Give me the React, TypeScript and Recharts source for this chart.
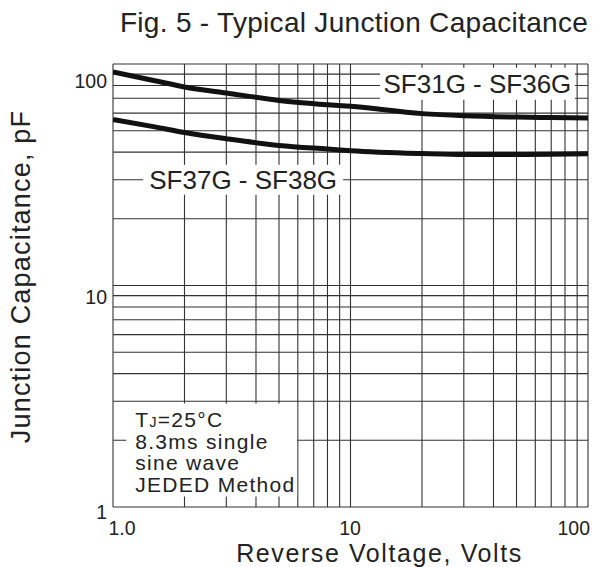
import React from 'react';
import { LineChart, Line, XAxis, YAxis, CartesianGrid, ReferenceArea } from 'recharts';

// ---- data ----
const voltages = [1, 1.5, 2, 3, 5, 8, 10, 20, 30, 50, 70, 100];
const capSF31toSF36 = [92, 84, 78.8, 74, 68.5, 65.5, 64.4, 59.7, 58.4, 57.6, 57.3, 57.1];
const capSF37toSF38 = [56.1, 52, 49.1, 46, 42.9, 41.3, 40.6, 39.4, 39.0, 39.0, 39.1, 39.3];

const xTicks = [1, 10, 100];
const xTickLabels = ['1.0', '10', '100'];
const yTicks = [1, 10, 100];
const yTickLabels = ['1', '10', '100'];

const xGridValues = [1, 2, 3, 4, 5, 6, 7, 8, 9, 10, 20, 30, 40, 50, 60, 70, 80, 90, 100];
const yGridValues = [1, 2, 3, 4, 5, 6, 7, 8, 9, 10, 20, 30, 40, 50, 60, 70, 80, 90, 100];

const seriesNames = ['SF31G - SF36G', 'SF37G - SF38G'];
// annotation boxes in data units: [x1, x2, y1, y2]
const boxSF31 = [13.3, 88.1, 69, 96.2];
const boxSF37 = [1.34, 9.31, 25.7, 35.1];
const boxNote = [1.137, 5.96, 1.115, 2.93];
const noteLines = ['TJ=25°C', '8.3ms single', 'sine wave', 'JEDED Method'];

const title = 'Fig. 5 - Typical Junction Capacitance';
const xTitle = 'Reverse Voltage, Volts';
const yTitle = 'Junction Capacitance, pF';

const rows = voltages.map((v, i) => ({ v, a: capSF31toSF36[i], b: capSF37toSF38[i] }));

// ---- styles ----
const FONT = '"Liberation Sans", Arial, Helvetica, sans-serif';
const INK = '#222';
const xTickStyle: Record<string, { dx: number; anchor: 'start' | 'middle' | 'end' }> = {
  '1': { dx: -4.5, anchor: 'start' },
  '10': { dx: -0.5, anchor: 'middle' },
  '100': { dx: 2, anchor: 'end' },
};
const yTickDy: Record<string, number> = { '1': 12, '10': 18, '100': 24 };

const renderXTick = (props: any) => {
  const { x, y, payload } = props;
  const i = xTicks.indexOf(payload.value);
  const st = xTickStyle[String(payload.value)] || { dx: 0, anchor: 'middle' };
  return (
    <text x={x + st.dx} y={y + 28} textAnchor={st.anchor} fontSize={19.5} fontFamily={FONT} fill={INK}>
      {xTickLabels[i]}
    </text>
  );
};

const renderYTick = (props: any) => {
  const { x, y, payload } = props;
  const i = yTicks.indexOf(payload.value);
  const dy = yTickDy[String(payload.value)] ?? 6;
  return (
    <text x={x - 6} y={y + dy} textAnchor="end" fontSize={19.5} fontFamily={FONT} fill={INK}>
      {yTickLabels[i]}
    </text>
  );
};

const NoteLabel = (props: any) => {
  const { viewBox } = props;
  const x0 = viewBox.x + 9;
  const y0 = viewBox.y + 23.3;
  return (
    <text x={x0} y={y0} fontSize={21} fontFamily={FONT} fill={INK} letterSpacing={1.3}>
      {noteLines.map((line, i) => {
        if (i === 0 && line.startsWith('TJ')) {
          return (
            <tspan key={i} x={x0} dy={0}>
              T<tspan fontSize={14}>J</tspan>
              {line.slice(2)}
            </tspan>
          );
        }
        return (
          <tspan key={i} x={x0} dy={i === 0 ? 0 : 21.8}>
            {line}
          </tspan>
        );
      })}
    </text>
  );
};

export default function App() {
  return (
    <div style={{ position: 'absolute', left: 0, top: 0, width: 597, height: 567, background: '#fff' }}>
      <LineChart width={597} height={567} data={rows} margin={{ top: 64, right: 9, bottom: 0, left: 0 }}>
        <CartesianGrid
          stroke="#333"
          strokeWidth={1.1}
          horizontalValues={yGridValues}
          verticalValues={xGridValues}
        />
        <XAxis
          dataKey="v"
          type="number"
          scale="log"
          domain={[1, 100]}
          allowDataOverflow
          ticks={xTicks}
          tick={renderXTick}
          tickLine={false}
          axisLine={false}
          tickSize={0}
          tickMargin={0}
          height={60}
          interval={0}
        />
        <YAxis
          type="number"
          scale="log"
          domain={[1, 100]}
          allowDataOverflow
          ticks={yTicks}
          tick={renderYTick}
          tickLine={false}
          axisLine={false}
          tickSize={0}
          tickMargin={0}
          width={113}
          interval={0}
        />
        <ReferenceArea
          x1={boxSF31[0]}
          x2={boxSF31[1]}
          y1={boxSF31[2]}
          y2={boxSF31[3]}
          fill="#fff"
          fillOpacity={1}
          stroke="none"
          label={{ value: seriesNames[0], position: 'center', fontSize: 26, fontFamily: FONT, fill: INK }}
        />
        <ReferenceArea
          x1={boxSF37[0]}
          x2={boxSF37[1]}
          y1={boxSF37[2]}
          y2={boxSF37[3]}
          fill="#fff"
          fillOpacity={1}
          stroke="none"
          label={{ value: seriesNames[1], position: 'center', fontSize: 26, fontFamily: FONT, fill: INK }}
        />
        <ReferenceArea
          x1={boxNote[0]}
          x2={boxNote[1]}
          y1={boxNote[2]}
          y2={boxNote[3]}
          fill="#fff"
          fillOpacity={1}
          stroke="none"
          label={<NoteLabel />}
        />
        <Line type="monotone" dataKey="a" stroke="#111" strokeWidth={5} dot={false} isAnimationActive={false} />
        <Line type="monotone" dataKey="b" stroke="#111" strokeWidth={5} dot={false} isAnimationActive={false} />
        <text x={354} y={32} textAnchor="middle" fontSize={28} fontFamily={FONT} fill={INK} letterSpacing={0.3}>
          {title}
        </text>
        <text x={379.5} y={561.5} textAnchor="middle" fontSize={25} fontFamily={FONT} fill={INK} letterSpacing={1.6}>
          {xTitle}
        </text>
        <text
          x={30}
          y={276.5}
          textAnchor="middle"
          fontSize={27}
          fontFamily={FONT}
          fill={INK}
          letterSpacing={1.2}
          transform="rotate(-90, 30, 276.5)"
        >
          {yTitle}
        </text>
      </LineChart>
    </div>
  );
}
